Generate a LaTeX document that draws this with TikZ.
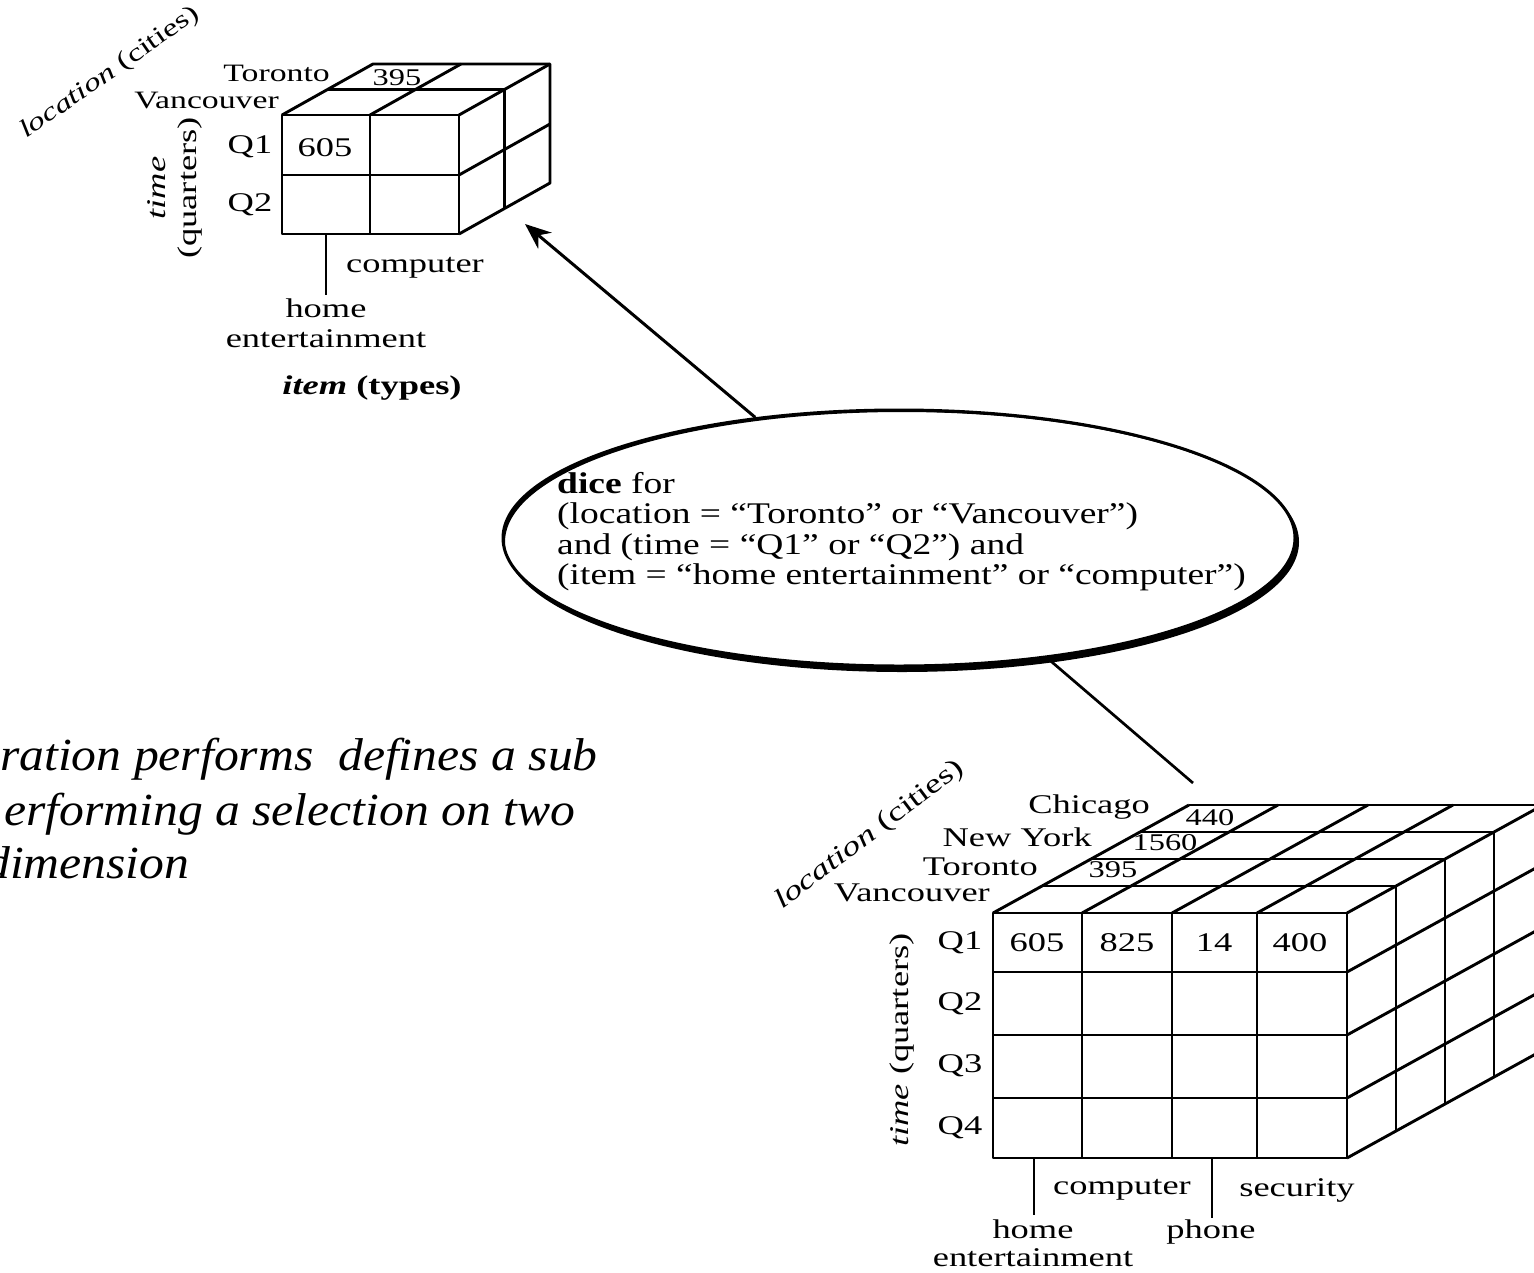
\documentclass[tikz,border=0pt]{standalone}
\usepackage{fontspec}
\setmainfont{Liberation Serif}
\newfontfamily\cubefont{Liberation Serif}[FakeStretch=1.35]
\newfontfamily\elfont{Liberation Serif}[FakeStretch=1.25]
\newfontfamily\slidefont{Liberation Serif}[FakeStretch=1.08]
\usetikzlibrary{shapes.geometric,arrows.meta}
\begin{document}
\begin{tikzpicture}[x=1pt,y=-1pt,line join=round,
  cube/.style={line width=2.9pt},
  lbl/.style={inner sep=0pt,font={\cubefont\fontsize{27}{31}\selectfont}},
  slbl/.style={inner sep=0pt,font={\cubefont\fontsize{25}{29}\selectfont}},
  num/.style={inner sep=0pt,font={\cubefont\fontsize{24}{26}\selectfont}},
  eltext/.style={inner sep=0pt,align=left,font={\elfont\fontsize{30}{30.5}\selectfont}},
  slide/.style={inner sep=0pt,anchor=base west,font={\slidefont\itshape\fontsize{46}{55}\selectfont}}]
\useasboundingbox (0,0) rectangle (1534,1272);
\fill[white] (0,0) rectangle (1534,1272);
\clip (0,0) rectangle (1534,1272);

% ---------------- small cube ----------------
\draw[cube] (282,115) rectangle (459,234);
\draw[cube] (370,115) -- (370,234);
\draw[cube] (282,175) -- (459,175);
\draw[cube] (282,115) -- (373,64) -- (550,64) -- (550,183) -- (459,234);
\draw[cube] (370,115) -- (461,64);
\draw[cube] (459,115) -- (550,64);
\draw[cube] (327.5,89.5) -- (504.5,89.5) -- (504.5,208.5);
\draw[cube] (459,175) -- (550,124);
\draw[cube] (326,234) -- (326,295);

\node[slbl,anchor=east] (stor) at (330,73) {Toronto};
\node[slbl,anchor=east] (svan) at (279,101) {Vancouver};
\node[lbl] (sq1) at (250,147) {Q1};
\node[lbl] (sq2) at (250,205) {Q2};
\node[lbl] (s605) at (325,148) {605};
\node[num] (s395) at (397,78) {395};
\node[lbl,rotate=90,align=center] (stime) at (175,188) {\textit{time}\\(quarters)};
\node[slbl,rotate=35] (sloc) at (110,73) {\textit{location} (cities)};
\node[lbl] (scomp) at (415,268) {computer};
\node[lbl] (shome) at (326,308) {home};
\node[lbl] (sent) at (326,339) {entertainment};
\node[lbl] (sitem) at (372,388) {\bfseries\itshape item\upshape\ (types)};

% ---------------- ellipse ----------------
\node[draw,ellipse,line width=3pt,minimum width=792pt,minimum height=256pt,inner sep=0pt] (dice) at (899,538) {};
\fill[even odd rule] (dice.center) ellipse [x radius=396,y radius=128]
  ([shift={(3,4)}]dice.center) ellipse [x radius=397,y radius=130];
\node[eltext,anchor=north west] (dicetxt) at (557,472) {\textbf{dice} for\\(location = “Toronto” or “Vancouver”)\\and (time = “Q1” or “Q2”) and\\(item = “home entertainment” or “computer”)};

\coordinate (smalltip) at (525,224);
\coordinate (bigtop) at (1193,783);
\draw[line width=3pt,-{Stealth[length=26pt,width=21pt]}] (dice.140) -- (smalltip);
\draw[line width=2.7pt] (dice.-39) -- (bigtop);

% ---------------- big cube ----------------
\draw[cube] (993,913) rectangle (1347,1158);
\foreach \x in {1082,1172,1257} \draw[cube] (\x,913) -- (\x,1158);
\foreach \y in {972,1035,1098} \draw[cube] (993,\y) -- (1347,\y);
\foreach \x in {993,1082,1172,1257,1347} \draw[cube] (\x,913) -- ++(196,-108);
\foreach \k in {1,...,4} \draw[cube] ({993+49*\k},{913-27*\k}) -- ++(354,0);
\foreach \k in {1,...,4} \draw[cube] ({1347+49*\k},{913-27*\k}) -- ++(0,245);
\foreach \y in {972,1035,1098,1158} \draw[cube] (1347,\y) -- ++(196,-108);
\draw[cube] (1034,1158) -- (1034,1215);
\draw[cube] (1212,1158) -- (1212,1218);

\node[lbl,anchor=east] (bchi) at (1150,807) {Chicago};
\node[lbl,anchor=east] (bny) at (1092,837) {New York};
\node[lbl,anchor=east] (btor) at (1038,867) {Toronto};
\node[lbl,anchor=east] (bvan) at (990,893) {Vancouver};
\node[num] (b440) at (1210,818) {440};
\node[num] (b1560) at (1165,843) {1560};
\node[num] (b395) at (1113,870) {395};
\node[lbl] (bq1) at (960,943) {Q1};
\node[lbl] (bq2) at (960,1004) {Q2};
\node[lbl] (bq3) at (960,1066) {Q3};
\node[lbl] (bq4) at (960,1128) {Q4};
\node[lbl] (b605) at (1037,943) {605};
\node[lbl] (b825) at (1127,943) {825};
\node[lbl] (b14) at (1214,943) {14};
\node[lbl] (b400) at (1300,943) {400};
\node[lbl,rotate=90] (btime) at (902,1040) {\textit{time} (quarters)};
\node[lbl,rotate=37] (bloc) at (870,835) {\textit{location} (cities)};
\node[lbl] (bcomp) at (1122,1190) {computer};
\node[lbl] (bsec) at (1297,1190) {security};
\node[lbl] (bhome) at (1033,1229) {home};
\node[lbl] (bphone) at (1211,1232) {phone};
\node[lbl] (bent) at (1033,1258) {entertainment};

% ---------------- slide text ----------------
\node[slide] (t1) at (0,770) {ration performs\ \ defines a sub};
\node[slide] (t2) at (4,825) {erforming a selection on two};
\node[slide] (t3) at (-15,878) {dimension};
\end{tikzpicture}
\end{document}
